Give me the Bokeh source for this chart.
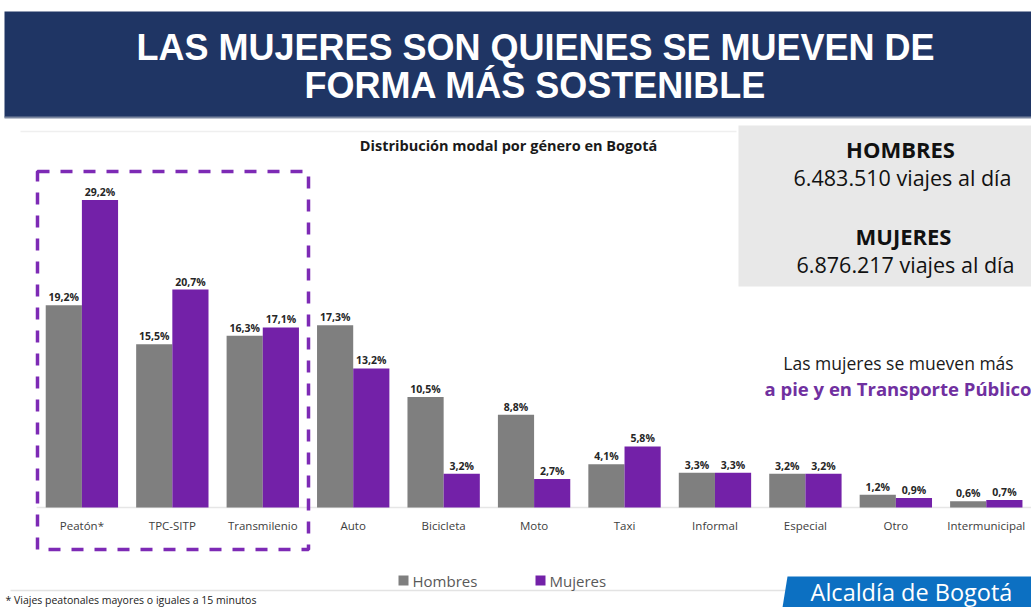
from bokeh.plotting import figure
from bokeh.models import Range1d, ColumnDataSource, LabelSet
from bokeh.core.properties import value
from bokeh.embed import file_html
from bokeh.resources import INLINE
import numpy as np

# ---------------- data ----------------
categories = ["Peatón*", "TPC-SITP", "Transmilenio", "Auto", "Bicicleta", "Moto",
              "Taxi", "Informal", "Especial", "Otro", "Intermunicipal"]
hombres = [19.2, 15.5, 16.3, 17.3, 10.5, 8.8, 4.1, 3.3, 3.2, 1.2, 0.6]
mujeres = [29.2, 20.7, 17.1, 13.2, 3.2, 2.7, 5.8, 3.3, 3.2, 0.9, 0.7]
series_names = ["Hombres", "Mujeres"]

title_lines = ["LAS MUJERES SON QUIENES SE MUEVEN DE", "FORMA MÁS SOSTENIBLE"]
subtitle = "Distribución modal por género en Bogotá"
box_heads = ["HOMBRES", "MUJERES"]
box_counts = ["6.483.510 viajes al día", "6.876.217 viajes al día"]
note_lines = ["Las mujeres se mueven más", "a pie y en Transporte Público"]
footnote = "* Viajes peatonales mayores o iguales a 15 minutos"
logo_text = "Alcaldía de Bogotá"

GRAY = "#7f7f7f"
PURPLE = "#7321a8"
W, H = 1031, 607

def fmt(v):
    return f"{v:.1f}%".replace(".", ",")

p = figure(width=W, height=H, output_backend="svg", toolbar_location=None,
           x_range=Range1d(-0.4, 11.0), y_range=Range1d(-9.5, 48.15),
           x_axis_location=None, y_axis_location=None, min_border=0,
           background_fill_color="white", border_fill_color="white")
p.outline_line_color = None
p.grid.visible = False
p.extra_x_ranges = {"px": Range1d(0, W)}
p.extra_y_ranges = {"px": Range1d(H, 0)}
PX = dict(x_range_name="px", y_range_name="px")
BODY = value("Open Sans")

# ---------- banner ----------
p.quad(left=4, right=W, top=11, bottom=117, fill_color="#1f3564", line_color=None, **PX)
p.segment(x0=4, x1=W, y0=117, y1=117, line_color="#7a869f", line_width=2, **PX)
p.text(x=[535, 535], y=[47, 85], text=title_lines, text_align="center", text_baseline="middle",
       text_font=value("Liberation Sans"), text_font_style="bold", text_font_size="36px",
       text_color="white", **PX)

# faint slide lines
p.segment(x0=20, x1=736, y0=131, y1=131, line_color="#efefef", line_width=1.5, **PX)
p.segment(x0=10, x1=790, y0=590, y1=590, line_color="#e3e3e3", line_width=1.5, **PX)

# subtitle
p.text(x=[508], y=[145], text=[subtitle], text_align="center", text_baseline="middle",
       text_font=BODY, text_font_style="bold", text_font_size="14.5px", text_color="#1a1a1a", **PX)

# ---------- gray info box ----------
p.quad(left=738, right=W, top=125, bottom=286, fill_color="#e8e8e8", line_color=None, **PX)
p.text(x=[900, 903], y=[148, 235], text=box_heads,
       text_align="center", text_baseline="middle", text_font=BODY, text_font_style="bold",
       text_font_size="22px", text_color="#111111", **PX)
p.text(x=[902, 905], y=[177, 264], text=box_counts,
       text_align="center", text_baseline="middle", text_font=BODY,
       text_font_size="21.5px", text_color="#111111", **PX)

# annotation text
p.text(x=[898], y=[362], text=[note_lines[0]], text_align="center", text_baseline="middle",
       text_font=BODY, text_font_size="17.5px", text_color="#1a1a1a", **PX)
p.text(x=[764], y=[388], text=[note_lines[1]], text_align="left", text_baseline="middle",
       text_font=BODY, text_font_style="bold", text_font_size="18.5px", text_color="#7030a0", **PX)

# ---------- bars ----------
xc = np.arange(len(categories)) + 0.5
src = ColumnDataSource(dict(
    xh=xc - 0.2, xm=xc + 0.2, h=hombres, m=mujeres,
    hl=[fmt(v) for v in hombres], ml=[fmt(v) for v in mujeres], xc=xc, cat=categories))

p.segment(x0=0, x1=11, y0=0, y1=0, line_color="#e6e6e6", line_width=1.5)
p.vbar(x="xh", top="h", bottom=0, width=0.4, source=src, fill_color=GRAY, line_color=None)
p.vbar(x="xm", top="m", bottom=0, width=0.4, source=src, fill_color=PURPLE, line_color=None)

for xcol, ycol, tcol in (("xh", "h", "hl"), ("xm", "m", "ml")):
    p.add_layout(LabelSet(x=xcol, y=ycol, text=tcol, source=src, y_offset=8,
                          text_align="center", text_baseline="middle",
                          text_font=BODY, text_font_style="bold", text_font_size="10.5px",
                          text_color="#262626"))

# category labels
cat_y = [525] * len(categories)
p.text(x=xc, y=cat_y, text=categories, text_align="center", text_baseline="middle",
       text_font=BODY, text_font_size="11.5px", text_color="#404040", y_range_name="px")

# dashed highlight box
p.quad(left=37, right=308, top=171, bottom=549, fill_color=None, line_color="#7d2ab5",
       line_width=3.5, line_dash="12 11", **PX)

# ---------- legend ----------
p.scatter(x=[403, 540], y=[580, 580], marker="square", size=10,
          fill_color=[GRAY, PURPLE], line_color=None, **PX)
p.text(x=[412, 549], y=[580, 580], text=series_names, text_align="left", text_baseline="middle",
       text_font=BODY, text_font_size="15px", text_color="#595959", **PX)

# footnote
p.text(x=[5], y=[606], text=[footnote], text_align="left", text_baseline="bottom",
       text_font=BODY, text_font_size="10.5px", text_color="#222222", **PX)

# logo
p.patch(x=[787, W, W, 782], y=[576, 576, H, H], fill_color="#0c70c2", line_color=None, **PX)
p.text(x=[911], y=[591], text=[logo_text], text_align="center", text_baseline="middle",
       text_font=BODY, text_font_size="23.5px", text_color="white", **PX)

open("out.html", "w").write(file_html(p, INLINE))
